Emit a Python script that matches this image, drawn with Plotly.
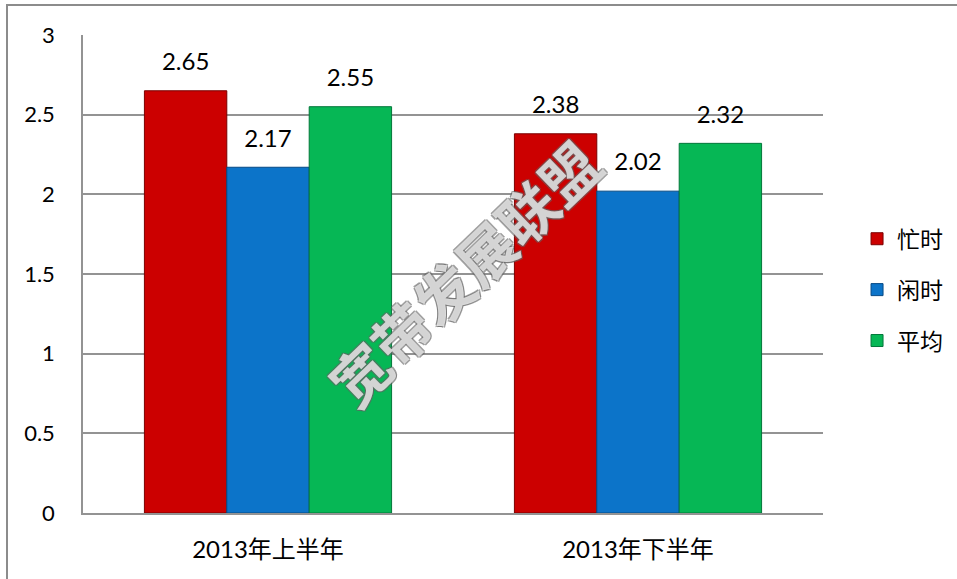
import plotly.graph_objects as go

categories = ["2013年上半年", "2013年下半年"]
series_names = ["忙时", "闲时", "平均"]
busy = [2.65, 2.38]
idle = [2.17, 2.02]
avg = [2.55, 2.32]
y_ticks = [0, 0.5, 1, 1.5, 2, 2.5, 3]
y_tick_labels = ["0", "0.5", "1", "1.5", "2", "2.5", "3"]
watermark = "宽带发展联盟"

colors = ["#CC0000", "#0C74C9", "#06B755"]
edge = ["#7A0000", "#064A85", "#03773A"]
num_font = "Lato, 'Noto Sans CJK SC', sans-serif"

fig = go.Figure()
for i, (name, vals) in enumerate(zip(series_names, [busy, idle, avg])):
    fig.add_trace(go.Bar(
        x=categories, y=vals, name=name,
        offsetgroup=str(i), legendgroup=str(i),
        marker=dict(color=colors[i], line=dict(color=edge[i], width=1)),
    ))
for i, (name, vals) in enumerate(zip(series_names, [busy, idle, avg])):
    fig.add_trace(go.Scatter(
        x=categories, y=vals, mode="markers+text", showlegend=False,
        offsetgroup=str(i), text=[f"{v:.2f}" for v in vals],
        textposition="top center", hoverinfo="skip",
        marker=dict(size=22, opacity=0),
        textfont=dict(family=num_font, size=24, color="#000000"),
        cliponaxis=False,
    ))

fig.update_layout(
    width=957, height=579,
    margin=dict(l=83, r=134, t=35, b=66, autoexpand=False),
    paper_bgcolor="white", plot_bgcolor="white",
    barmode="group", bargap=0.332, bargroupgap=0,
    scattermode="group", scattergap=0.332,
    showlegend=True,
    legend=dict(x=1.046, y=0.467, xanchor="left", yanchor="middle",
                font=dict(family="'Noto Sans CJK SC', sans-serif", size=23, color="#000"),
                tracegroupgap=18, bgcolor="rgba(0,0,0,0)"),
    font=dict(family=num_font, color="#000"),
)
fig.update_yaxes(range=[0, 3], tickvals=y_ticks, ticktext=y_tick_labels,
                 showgrid=True, gridcolor="#939393", gridwidth=1.5,
                 showline=True, linecolor="#939393", linewidth=1.5,
                 zeroline=False, ticks="outside", ticklen=22, tickcolor="rgba(0,0,0,0)",
                 tickfont=dict(family=num_font, size=22, color="#000"))
fig.update_xaxes(showline=True, linecolor="#939393", linewidth=1.5,
                 ticks="outside", ticklen=14, tickcolor="rgba(0,0,0,0)",
                 tickfont=dict(family=num_font, size=24, color="#000"))

# outer chart border
fig.add_shape(type="rect", xref="paper", yref="paper",
              x0=-0.1027, x1=1.19, y0=-0.15, y1=1.0628,
              line=dict(color="#8C8C8C", width=2), fillcolor="rgba(0,0,0,0)", layer="below")

# watermark (outlined look)
sh = "rgba(100,100,100,0.85)"
fig.add_annotation(text=watermark, xref="paper", yref="paper", x=0.514, y=0.505,
                   showarrow=False, textangle=-44,
                   font=dict(family="'Noto Sans CJK SC', sans-serif", size=58, weight="bold",
                             color="rgba(255,255,255,0.72)",
                             shadow=f"1.5px 0 0 {sh}, -1.5px 0 0 {sh}, 0 1.5px 0 {sh}, 0 -1.5px 0 {sh}"))

fig.write_html("out.html", config={"displayModeBar": False},
               post_script="document.body.style.margin='0';document.body.style.overflow='hidden';")
